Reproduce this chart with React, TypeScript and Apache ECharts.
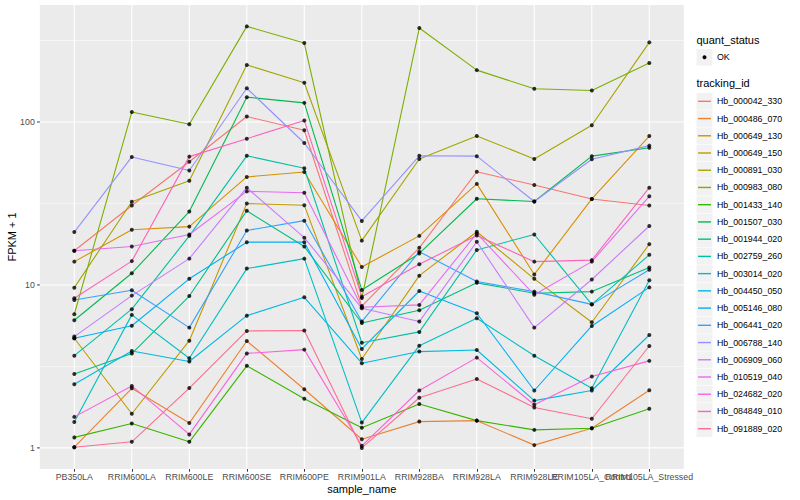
import React, { useEffect, useRef } from "react";
import * as echarts from "echarts";

const sampleNames = [
  "PB350LA", "RRIM600LA", "RRIM600LE", "RRIM600SE", "RRIM600PE", "RRIM901LA",
  "RRIM928BA", "RRIM928LA", "RRIM928LE", "RRIM105LA_Control", "RRIM105LA_Stressed",
];

const trackingIds = [
  "Hb_000042_330", "Hb_000486_070", "Hb_000649_130", "Hb_000649_150", "Hb_000891_030",
  "Hb_000983_080", "Hb_001433_140", "Hb_001507_030", "Hb_001944_020", "Hb_002759_260",
  "Hb_003014_020", "Hb_004450_050", "Hb_005146_080", "Hb_006441_020", "Hb_006788_140",
  "Hb_006909_060", "Hb_010519_040", "Hb_024682_020", "Hb_084849_010", "Hb_091889_020",
];

const trackingColors = [
  "#F8766D", "#EA8331", "#D89000", "#C09B00", "#A3A500", "#7CAE00", "#39B600", "#00BB4E",
  "#00BF7D", "#00C1A3", "#00BFC4", "#00BAE0", "#00B0F6", "#35A2FF", "#9590FF", "#C77CFF",
  "#E76BF3", "#FA62DB", "#FF62BC", "#FF6C91",
];

// FPKM + 1 per sample (same order as sampleNames)
const hb000042_330 = [16.2, 30.7, 57, 108, 89, 7.42, 16.9, 49.5, 41, 33.7, 30.7];
const hb000486_070 = [1.01, 2.32, 1.42, 4.53, 2.29, 1.13, 1.45, 1.47, 1.04, 1.32, 2.26];
const hb000649_130 = [13.9, 21.8, 22.8, 46, 49.3, 12.9, 20.0, 41.7, 11.6, 33.7, 82];
const hb000649_150 = [4.71, 1.62, 4.55, 31.6, 30.8, 3.51, 11.4, 21.2, 10.9, 5.9, 17.8];
const hb000891_030 = [9.62, 32.4, 43.6, 224, 174, 18.7, 59.3, 82, 59.3, 95.5, 308];
const hb000983_080 = [6.61, 115, 96.8, 386, 305, 8.3, 377, 208, 160, 156, 230];
const hb001433_140 = [1.16, 1.41, 1.09, 3.19, 2.0, 1.33, 1.86, 1.47, 1.29, 1.32, 1.74];
const hb001507_030 = [6.07, 11.8, 28.2, 142, 131, 9.32, 15.6, 33.8, 32.5, 61.7, 69.5];
const hb001944_020 = [2.84, 3.79, 8.55, 28.5, 17.2, 5.84, 7.0, 10.3, 8.9, 9.1, 12.8];
const hb002759_260 = [3.68, 7.1, 20.0, 62, 52, 4.42, 5.15, 16.4, 20.4, 7.6, 15.3];
const hb003014_020 = [1.44, 6.55, 3.55, 12.6, 14.5, 1.43, 4.24, 6.24, 3.68, 2.32, 10.7];
const hb004450_050 = [2.46, 3.93, 3.39, 6.48, 8.4, 3.31, 3.9, 3.99, 1.95, 2.25, 4.93];
const hb005146_080 = [4.71, 5.62, 10.9, 18.3, 18.3, 4.05, 9.18, 6.7, 2.25, 5.6, 9.66];
const hb006441_020 = [8.09, 9.28, 5.47, 21.6, 24.8, 5.96, 16.0, 10.5, 9.1, 7.6, 12.4];
const hb006788_140 = [21.1, 61, 50.4, 161, 74.3, 24.7, 62, 61.7, 32.5, 59, 71.6];
const hb006909_060 = [4.82, 8.6, 14.5, 39.5, 19.5, 7.2, 5.96, 18.4, 5.47, 10.8, 23];
const hb010519_040 = [16.2, 17.2, 20.4, 37.5, 36.8, 7.3, 7.54, 20.7, 8.7, 13.9, 35];
const hb024682_020 = [1.55, 2.4, 1.21, 3.8, 4.01, 1.03, 2.25, 3.58, 1.84, 2.74, 3.42];
const hb084849_010 = [8.28, 14.0, 61.3, 79, 102, 8.47, 13.4, 20.1, 13.9, 14.2, 39.5];
const hb091889_020 = [1.01, 1.09, 2.33, 5.22, 5.25, 1.0, 2.03, 2.65, 1.77, 1.51, 4.22];

const seriesValues = [
  hb000042_330, hb000486_070, hb000649_130, hb000649_150, hb000891_030,
  hb000983_080, hb001433_140, hb001507_030, hb001944_020, hb002759_260,
  hb003014_020, hb004450_050, hb005146_080, hb006441_020, hb006788_140,
  hb006909_060, hb010519_040, hb024682_020, hb084849_010, hb091889_020,
];

const yMajorBreaks = [1, 10, 100];
const yMinorBreaks = [3.162, 31.62, 316.2];
const Y_MIN = 0.7422;
const Y_MAX = 522.9;

const FONT = "'Liberation Sans', Arial, Helvetica, sans-serif";
const LEGEND_LEFT = 696.5;
const LEGEND_TOP = 92.7;
const LEGEND_ROW = 17.23;

function buildOption(): any {
  const lineSeries = trackingIds.map((id, k) => ({
    type: "line",
    name: id,
    data: seriesValues[k],
    symbol: "none",
    z: 3,
    lineStyle: { color: trackingColors[k], width: 1.1 },
    itemStyle: { color: trackingColors[k] },
    emphasis: { disabled: true },
  }));
  const points: any[] = [];
  seriesValues.forEach((vals) => {
    vals.forEach((v, i) => points.push([i, v]));
  });
  return {
    animation: false,
    backgroundColor: "#FFFFFF",
    textStyle: { fontFamily: FONT },
    grid: { left: 45.55, width: 632.5, top: 4.9, height: 464.1, containLabel: false, outerBoundsMode: "none" },
    xAxis: {
      type: "category",
      data: sampleNames,
      boundaryGap: true,
      axisLine: { show: false },
      axisTick: { show: true, alignWithLabel: true, length: 2.7, lineStyle: { color: "#333333", width: 1 } },
      axisLabel: { interval: 0, hideOverlap: false, color: "#4D4D4D", fontSize: 8.8, margin: 3.8, fontFamily: FONT },
      splitLine: { show: false },
      name: "sample_name",
      nameLocation: "middle",
      nameGap: 14.5,
      nameMoveOverlap: false,
      nameTextStyle: { color: "#000000", fontSize: 11, fontFamily: FONT },
    },
    yAxis: {
      type: "log",
      logBase: 10,
      min: Y_MIN,
      max: Y_MAX,
      offset: 5.75,
      axisLine: { show: false },
      axisTick: { show: false },
      axisLabel: { color: "#4D4D4D", fontSize: 8.8, margin: 5, showMinLabel: false, showMaxLabel: false, fontFamily: FONT },
      splitLine: { show: false },
      minorSplitLine: { show: false },
      name: "FPKM + 1",
      nameLocation: "middle",
      nameGap: 22,
      nameMoveOverlap: false,
      nameRotate: 90,
      nameTextStyle: { color: "#000000", fontSize: 11, fontFamily: FONT },
    },
    series: [
      ...lineSeries,
      {
        type: "scatter",
        name: "OK",
        data: points,
        symbol: "circle",
        symbolSize: 4,
        z: 5,
        itemStyle: { color: "#000000" },
        emphasis: { disabled: true },
      },
    ],
  };
}

function buildGraphic(chart: any): any[] {
  const xs = sampleNames.map((_, i) => chart.convertToPixel({ xAxisIndex: 0 }, i) as number);
  const py = (v: number) => chart.convertToPixel({ yAxisIndex: 0 }, v) as number;
  const n = xs.length;
  const step = (xs[n - 1] - xs[0]) / (n - 1);
  const left = xs[0] - 0.6 * step;
  const right = xs[n - 1] + 0.6 * step;
  const top = py(Y_MAX);
  const bottom = py(Y_MIN);
  const els: any[] = [];
  els.push({
    type: "rect", z: -10, silent: true,
    shape: { x: left, y: top, width: right - left, height: bottom - top },
    style: { fill: "#EBEBEB" },
  });
  yMinorBreaks.forEach((v) => {
    const y = py(v);
    els.push({ type: "line", z: -9, silent: true, shape: { x1: left, y1: y, x2: right, y2: y }, style: { stroke: "#FFFFFF", lineWidth: 0.55 } });
  });
  yMajorBreaks.forEach((v) => {
    const y = py(v);
    els.push({ type: "line", z: -8, silent: true, shape: { x1: left, y1: y, x2: right, y2: y }, style: { stroke: "#FFFFFF", lineWidth: 1.07 } });
    els.push({ type: "line", z: -8, silent: true, shape: { x1: left - 2.7, y1: y, x2: left, y2: y }, style: { stroke: "#333333", lineWidth: 1 } });
  });
  xs.forEach((x) => {
    els.push({ type: "line", z: -8, silent: true, shape: { x1: x, y1: top, x2: x, y2: bottom }, style: { stroke: "#FFFFFF", lineWidth: 1.07 } });
  });
  // legend: quant_status
  els.push({ type: "text", z: 1, silent: true, style: { text: "quant_status", x: LEGEND_LEFT, y: 40, fill: "#000000", fontSize: 11, fontFamily: FONT, verticalAlign: "middle", align: "left" } });
  els.push({ type: "rect", z: 0, silent: true, shape: { x: LEGEND_LEFT, y: 49, width: 16, height: 16.6 }, style: { fill: "#F2F2F2" } });
  els.push({ type: "circle", z: 1, silent: true, shape: { cx: LEGEND_LEFT + 8, cy: 57.3, r: 2 }, style: { fill: "#000000" } });
  els.push({ type: "text", z: 1, silent: true, style: { text: "OK", x: LEGEND_LEFT + 20.5, y: 57.3, fill: "#000000", fontSize: 8.8, fontFamily: FONT, verticalAlign: "middle", align: "left" } });
  // legend: tracking_id
  els.push({ type: "text", z: 1, silent: true, style: { text: "tracking_id", x: LEGEND_LEFT, y: 83.3, fill: "#000000", fontSize: 11, fontFamily: FONT, verticalAlign: "middle", align: "left" } });
  trackingIds.forEach((id, i) => {
    const rowTop = LEGEND_TOP + i * LEGEND_ROW;
    const cy = rowTop + LEGEND_ROW / 2;
    els.push({ type: "rect", z: 0, silent: true, shape: { x: LEGEND_LEFT, y: rowTop + 0.3, width: 16, height: LEGEND_ROW - 0.6 }, style: { fill: "#F2F2F2" } });
    els.push({ type: "line", z: 1, silent: true, shape: { x1: LEGEND_LEFT + 1.5, y1: cy, x2: LEGEND_LEFT + 14.5, y2: cy }, style: { stroke: trackingColors[i], lineWidth: 1.4 } });
    els.push({ type: "text", z: 1, silent: true, style: { text: id, x: LEGEND_LEFT + 20.5, y: cy, fill: "#000000", fontSize: 8.8, fontFamily: FONT, verticalAlign: "middle", align: "left" } });
  });
  return els;
}

export default function App() {
  const ref = useRef<HTMLDivElement>(null);
  useEffect(() => {
    const prevMargin = document.body.style.margin;
    document.body.style.margin = "0";
    const chart = echarts.init(ref.current as HTMLDivElement, null, { renderer: "svg", width: 800, height: 500 });
    chart.setOption(buildOption());
    chart.setOption({ graphic: buildGraphic(chart) });
    return () => {
      chart.dispose();
      document.body.style.margin = prevMargin;
    };
  }, []);
  return <div ref={ref} style={{ width: 800, height: 500, position: "absolute", left: 0, top: 0 }} />;
}
